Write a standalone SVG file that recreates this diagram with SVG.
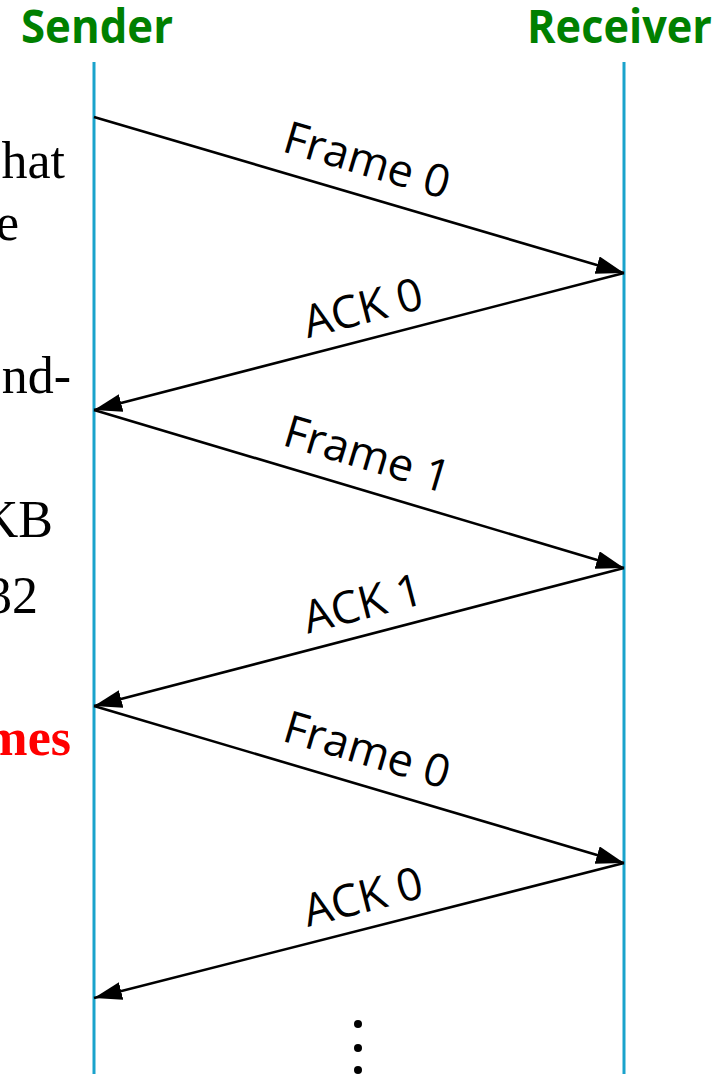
<svg xmlns="http://www.w3.org/2000/svg" width="721" height="1074" viewBox="0 0 721 1074">
  <style>
    .actor { font-family: "Open Sans", "Liberation Sans", sans-serif; font-weight: 700; font-size: 46px; fill: #008000; }
    .life { stroke: #1aa3cc; stroke-width: 3; fill: none; }
    .msg { stroke: #000; stroke-width: 2.6; fill: none; marker-end: url(#arrow); }
    .lbl { font-family: "Open Sans", "Liberation Sans", sans-serif; font-size: 45px; fill: #000; text-anchor: middle; }
    .side { font-family: "Liberation Serif", "Times New Roman", serif; font-size: 52px; fill: #000; text-anchor: end; }
    .sidered { font-family: "Liberation Serif", "Times New Roman", serif; font-size: 52px; font-weight: 700; fill: #ff0000; text-anchor: end; }
  </style>
  <defs>
    <marker id="arrow" markerUnits="userSpaceOnUse" markerWidth="30" markerHeight="20" refX="28" refY="9" orient="auto">
      <path d="M0,0 L28,9 L0,18 Z" fill="#000"/>
    </marker>
  </defs>
  <rect width="721" height="1074" fill="#fff"/>

  <g id="side-text">
    <text class="side" x="65" y="178">hat</text>
    <text class="side" x="19" y="240">e</text>
    <text class="side" x="71" y="393">nd-</text>
    <text class="side" x="53" y="537">KB</text>
    <text class="side" x="38" y="613">32</text>
    <text class="sidered" x="71" y="755">mes</text>
  </g>

  <g id="sender">
    <text class="actor" x="21" y="43" textLength="152" lengthAdjust="spacingAndGlyphs">Sender</text>
    <line class="life" x1="94" y1="62" x2="94" y2="1074"/>
  </g>

  <g id="receiver">
    <text class="actor" x="527" y="43" textLength="185" lengthAdjust="spacingAndGlyphs">Receiver</text>
    <line class="life" x1="624" y1="62" x2="624" y2="1074"/>
  </g>

  <g id="connectors">
    <line class="msg" x1="94" y1="117" x2="624" y2="273"/>
    <text class="lbl" transform="translate(359,195) rotate(16.4)" x="-2" y="-20">Frame 0</text>

    <line class="msg" x1="624" y1="273" x2="94" y2="410"/>
    <text class="lbl" transform="translate(359,341.5) rotate(-14.5)" x="12" y="-16">ACK 0</text>

    <line class="msg" x1="94" y1="410" x2="624" y2="568"/>
    <text class="lbl" transform="translate(359,489) rotate(16.6)" x="-2" y="-20">Frame 1</text>

    <line class="msg" x1="624" y1="568" x2="94" y2="706"/>
    <text class="lbl" transform="translate(359,637) rotate(-14.6)" x="12" y="-16">ACK 1</text>

    <line class="msg" x1="94" y1="706" x2="624" y2="863"/>
    <text class="lbl" transform="translate(359,784.5) rotate(16.5)" x="-2" y="-20">Frame 0</text>

    <line class="msg" x1="624" y1="863" x2="94" y2="998"/>
    <text class="lbl" transform="translate(359,930.5) rotate(-14.3)" x="12" y="-16">ACK 0</text>
  </g>

  <g id="continuation">
    <circle cx="358" cy="1024" r="4"/>
    <circle cx="358" cy="1048" r="4"/>
    <circle cx="358" cy="1070" r="4"/>
  </g>
</svg>
